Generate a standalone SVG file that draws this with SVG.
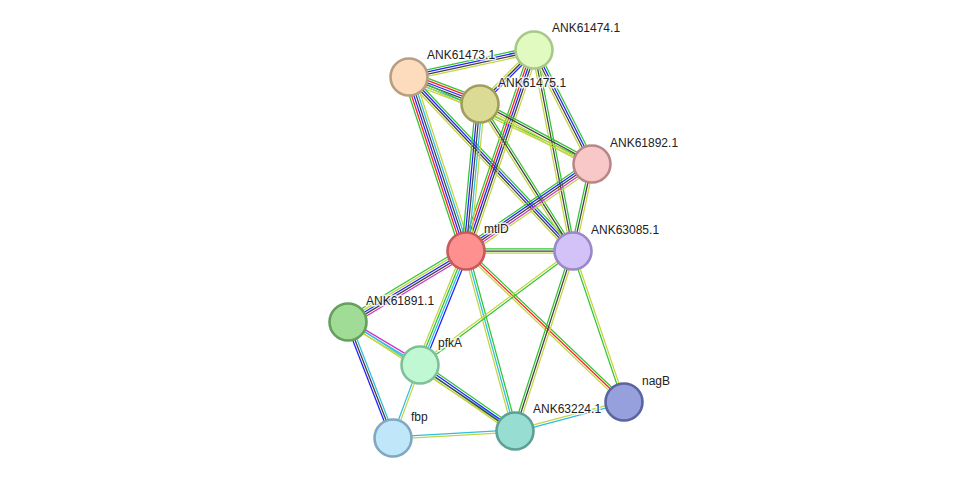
<svg xmlns="http://www.w3.org/2000/svg" width="976" height="484" viewBox="0 0 976 484">
<style>
line{stroke-width:1.25;fill:none}
.g{stroke:#33c433}.r{stroke:#ff2020}.b{stroke:#2020ff}.k{stroke:#404040}.c{stroke:#2ebee0}.m{stroke:#cc33cc}.y{stroke:#c2d640}
.n circle{stroke-width:2.6}
text{font-family:"Liberation Sans",Arial,sans-serif;font-size:12px;fill:#222;stroke:#fff;stroke-width:3;stroke-opacity:0.8;paint-order:stroke;stroke-linejoin:round}
</style>
<rect width="976" height="484" fill="#fff"/>
<g id="edges">
<g transform="translate(409,77) rotate(-12.19)"><line x2="127.9" y1="-3.3" y2="-3.3" class="g"/><line x2="127.9" y1="-1.1" y2="-1.1" class="b"/><line x2="127.9" y1="1.1" y2="1.1" class="k"/><line x2="127.9" y1="3.3" y2="3.3" class="y"/></g>
<g transform="translate(409,77) rotate(20.82)"><line x2="76" y1="-5.5" y2="-5.5" class="g"/><line x2="76" y1="-3.3" y2="-3.3" class="r"/><line x2="76" y1="-1.1" y2="-1.1" class="b"/><line x2="76" y1="1.1" y2="1.1" class="k"/><line x2="76" y1="3.3" y2="3.3" class="c"/><line x2="76" y1="5.5" y2="5.5" class="y"/></g>
<g transform="translate(409,77) rotate(71.86)"><line x2="183.1" y1="-5.5" y2="-5.5" class="y"/><line x2="183.1" y1="-3.3" y2="-3.3" class="c"/><line x2="183.1" y1="-1.1" y2="-1.1" class="k"/><line x2="183.1" y1="1.1" y2="1.1" class="b"/><line x2="183.1" y1="3.3" y2="3.3" class="r"/><line x2="183.1" y1="5.5" y2="5.5" class="g"/></g>
<g transform="translate(409,77) rotate(46.69)"><line x2="239.1" y1="-3.3" y2="-3.3" class="g"/><line x2="239.1" y1="-1.1" y2="-1.1" class="b"/><line x2="239.1" y1="1.1" y2="1.1" class="k"/><line x2="239.1" y1="3.3" y2="3.3" class="y"/></g>
<g transform="translate(409,77) rotate(25.43)"><line x2="202.6" y1="-1.1" y2="-1.1" class="g"/><line x2="202.6" y1="1.1" y2="1.1" class="y"/></g>
<g transform="translate(534,50) rotate(135)"><line x2="76.4" y1="-2.2" y2="-2.2" class="b"/><line x2="76.4" y1="0" y2="0" class="k"/><line x2="76.4" y1="2.2" y2="2.2" class="y"/></g>
<g transform="translate(534,50) rotate(108.69)"><line x2="212.2" y1="-4.4" y2="-4.4" class="y"/><line x2="212.2" y1="-2.2" y2="-2.2" class="k"/><line x2="212.2" y1="0" y2="0" class="b"/><line x2="212.2" y1="2.2" y2="2.2" class="r"/><line x2="212.2" y1="4.4" y2="4.4" class="g"/></g>
<g transform="translate(534,50) rotate(79.02)"><line x2="204.7" y1="-2.2" y2="-2.2" class="g"/><line x2="204.7" y1="0" y2="0" class="k"/><line x2="204.7" y1="2.2" y2="2.2" class="y"/></g>
<g transform="translate(534,50) rotate(63.04)"><line x2="127.9" y1="-3.3" y2="-3.3" class="g"/><line x2="127.9" y1="-1.1" y2="-1.1" class="b"/><line x2="127.9" y1="1.1" y2="1.1" class="k"/><line x2="127.9" y1="3.3" y2="3.3" class="y"/></g>
<g transform="translate(480,104) rotate(95.44)"><line x2="147.7" y1="-4.4" y2="-4.4" class="y"/><line x2="147.7" y1="-2.2" y2="-2.2" class="c"/><line x2="147.7" y1="0" y2="0" class="k"/><line x2="147.7" y1="2.2" y2="2.2" class="b"/><line x2="147.7" y1="4.4" y2="4.4" class="g"/></g>
<g transform="translate(480,104) rotate(57.68)"><line x2="173.9" y1="-2.2" y2="-2.2" class="g"/><line x2="173.9" y1="0" y2="0" class="k"/><line x2="173.9" y1="2.2" y2="2.2" class="y"/></g>
<g transform="translate(480,104) rotate(28.18)"><line x2="127.1" y1="-3.3" y2="-3.3" class="g"/><line x2="127.1" y1="-1.1" y2="-1.1" class="k"/><line x2="127.1" y1="1.1" y2="1.1" class="y"/><line x2="127.1" y1="3.3" y2="3.3" class="y"/></g>
<g transform="translate(466,251) rotate(-34.62)"><line x2="153.1" y1="-4.4" y2="-4.4" class="g"/><line x2="153.1" y1="-2.2" y2="-2.2" class="b"/><line x2="153.1" y1="0" y2="0" class="k"/><line x2="153.1" y1="2.2" y2="2.2" class="m"/><line x2="153.1" y1="4.4" y2="4.4" class="y"/></g>
<g transform="translate(592,164) rotate(102.32)"><line x2="89" y1="-2.2" y2="-2.2" class="y"/><line x2="89" y1="0" y2="0" class="k"/><line x2="89" y1="2.2" y2="2.2" class="g"/></g>
<g transform="translate(466,251)"><line x2="107" y1="-2.2" y2="-2.2" class="g"/><line x2="107" y1="0" y2="0" class="k"/><line x2="107" y1="2.2" y2="2.2" class="y"/></g>
<g transform="translate(466,251) rotate(148.97)"><line x2="137.7" y1="-4.4" y2="-4.4" class="m"/><line x2="137.7" y1="-2.2" y2="-2.2" class="k"/><line x2="137.7" y1="0" y2="0" class="b"/><line x2="137.7" y1="2.2" y2="2.2" class="y"/><line x2="137.7" y1="4.4" y2="4.4" class="g"/></g>
<g transform="translate(466,251) rotate(111.97)"><line x2="122.9" y1="-3.3" y2="-3.3" class="b"/><line x2="122.9" y1="-1.1" y2="-1.1" class="c"/><line x2="122.9" y1="1.1" y2="1.1" class="g"/><line x2="122.9" y1="3.3" y2="3.3" class="y"/></g>
<g transform="translate(466,251) rotate(74.77)"><line x2="186.6" y1="-2.2" y2="-2.2" class="g"/><line x2="186.6" y1="0" y2="0" class="c"/><line x2="186.6" y1="2.2" y2="2.2" class="y"/></g>
<g transform="translate(466,251) rotate(43.70)"><line x2="218.6" y1="-2.2" y2="-2.2" class="g"/><line x2="218.6" y1="0" y2="0" class="r"/><line x2="218.6" y1="2.2" y2="2.2" class="y"/></g>
<g transform="translate(573,251) rotate(143.31)"><line x2="190.8" y1="-1.1" y2="-1.1" class="g"/><line x2="190.8" y1="1.1" y2="1.1" class="y"/></g>
<g transform="translate(573,251) rotate(107.86)"><line x2="189.1" y1="-2.2" y2="-2.2" class="y"/><line x2="189.1" y1="0" y2="0" class="k"/><line x2="189.1" y1="2.2" y2="2.2" class="g"/></g>
<g transform="translate(573,251) rotate(71.33)"><line x2="159.4" y1="-1.1" y2="-1.1" class="y"/><line x2="159.4" y1="1.1" y2="1.1" class="g"/></g>
<g transform="translate(348,322) rotate(30.85)"><line x2="83.9" y1="-2.2" y2="-2.2" class="m"/><line x2="83.9" y1="0" y2="0" class="c"/><line x2="83.9" y1="2.2" y2="2.2" class="y"/></g>
<g transform="translate(348,322) rotate(68.80)"><line x2="124.4" y1="-2.2" y2="-2.2" class="c"/><line x2="124.4" y1="0" y2="0" class="k"/><line x2="124.4" y1="2.2" y2="2.2" class="b"/></g>
<g transform="translate(348,322) rotate(33.13)"><line x2="199.4" y1="-1.1" y2="-1.1" class="c"/><line x2="199.4" y1="1.1" y2="1.1" class="y"/></g>
<g transform="translate(420,365) rotate(34.79)"><line x2="115.7" y1="-3.3" y2="-3.3" class="g"/><line x2="115.7" y1="-1.1" y2="-1.1" class="b"/><line x2="115.7" y1="1.1" y2="1.1" class="k"/><line x2="115.7" y1="3.3" y2="3.3" class="y"/></g>
<g transform="translate(420,365) rotate(110.30)"><line x2="77.8" y1="-1.1" y2="-1.1" class="y"/><line x2="77.8" y1="1.1" y2="1.1" class="c"/></g>
<g transform="translate(393,438) rotate(-3.28)"><line x2="122.2" y1="-1.1" y2="-1.1" class="c"/><line x2="122.2" y1="1.1" y2="1.1" class="y"/></g>
<g transform="translate(515,431) rotate(-14.90)"><line x2="112.8" y1="-1.1" y2="-1.1" class="y"/><line x2="112.8" y1="1.1" y2="1.1" class="c"/></g>
</g>
<g id="n-ANK61474" class="n"><circle cx="534" cy="50" r="18.5" fill="#e0fac0" stroke="#a8c888"/><text x="552" y="32">ANK61474.1</text></g>
<g id="n-ANK61473" class="n"><circle cx="409" cy="77" r="18.5" fill="#fddcbe" stroke="#b89e80"/><text x="427" y="59">ANK61473.1</text></g>
<g id="n-ANK61475" class="n"><circle cx="480" cy="104" r="18.5" fill="#dcdb96" stroke="#a09e5c"/><text x="498" y="87">ANK61475.1</text></g>
<g id="n-ANK61892" class="n"><circle cx="592" cy="164" r="18.5" fill="#f8c8c8" stroke="#b88888"/><text x="610" y="147">ANK61892.1</text></g>
<g id="n-mtlD" class="n"><circle cx="466" cy="251" r="18.5" fill="#ff9090" stroke="#c85a5a"/><text x="484" y="233">mtlD</text></g>
<g id="n-ANK63085" class="n"><circle cx="573" cy="251" r="18.5" fill="#d2c2f8" stroke="#9a88c8"/><text x="591" y="234">ANK63085.1</text></g>
<g id="n-ANK61891" class="n"><circle cx="348" cy="322" r="18.5" fill="#a0dc96" stroke="#64a05c"/><text x="366" y="305">ANK61891.1</text></g>
<g id="n-pfkA" class="n"><circle cx="420" cy="365" r="18.5" fill="#c0f8d4" stroke="#80c098"/><text x="438" y="347">pfkA</text></g>
<g id="n-nagB" class="n"><circle cx="624" cy="402" r="18.5" fill="#96a0dc" stroke="#5a64a0"/><text x="642" y="385">nagB</text></g>
<g id="n-fbp" class="n"><circle cx="393" cy="438" r="18.5" fill="#c0e6fa" stroke="#80a8c0"/><text x="411" y="421">fbp</text></g>
<g id="n-ANK63224" class="n"><circle cx="515" cy="431" r="18.5" fill="#98ddd2" stroke="#5ca096"/><text x="533" y="413">ANK63224.1</text></g>
</svg>
